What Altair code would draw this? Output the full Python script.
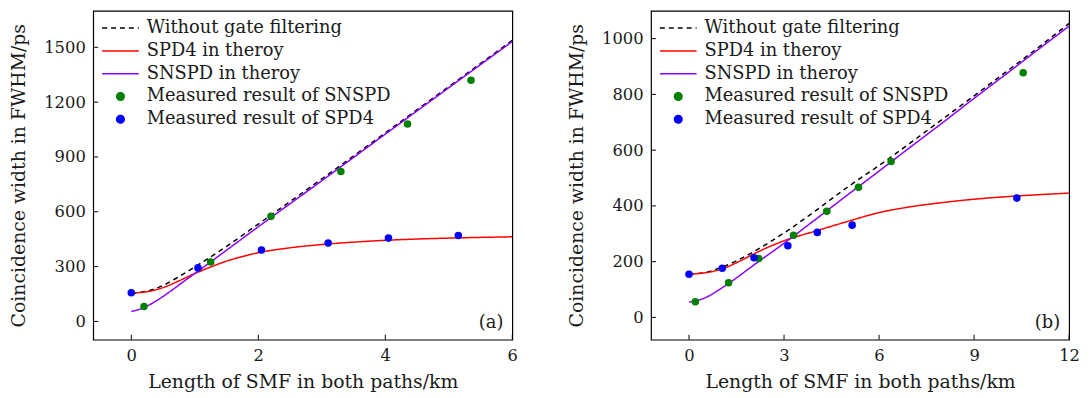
import altair as alt
import pandas as pd

SERIES = ["Without gate filtering", "SPD4 in theroy", "SNSPD in theroy",
          "Measured result of SNSPD", "Measured result of SPD4"]
COLORS = ["#000000", "#ff0000", "#8b00ff", "#008000", "#0000ff"]
DASHES = [[5, 4], [1, 0], [1, 0], [1, 0], [1, 0]]
SHAPES = ["stroke", "stroke", "stroke", "circle", "circle"]
SIZES = [1369, 1369, 1369, 58, 58]

# ---- panel (a) ----
a_dash_x = [0, 0.25, 0.5, 0.75, 1, 1.5, 2, 3, 4, 5, 6]
a_dash_y = [155, 166, 197, 245, 298, 411, 533, 780, 1032, 1285, 1538]
a_spd4_x = [0, 0.25, 0.5, 0.75, 1, 1.25, 1.5, 1.75, 2, 2.5, 3, 3.5, 4, 4.5, 5, 5.5, 6]
a_spd4_y = [155, 163, 185, 222, 262, 298, 330, 355, 376, 403, 421, 434, 444, 451, 456, 460, 463]
a_snspd_x = [0, 0.2, 0.4, 0.6, 0.8, 1, 1.2, 1.5, 2, 3, 4, 5, 6]
a_snspd_y = [54, 76, 114, 161, 212, 263, 313, 390, 518, 770, 1025, 1279, 1532]
a_meas_snspd_x = [0.2, 1.25, 2.2, 3.3, 4.35, 5.35]
a_meas_snspd_y = [82, 325, 575, 820, 1080, 1320]
a_meas_spd4_x = [0, 1.05, 2.05, 3.1, 4.05, 5.15]
a_meas_spd4_y = [157, 293, 391, 429, 456, 470]
a_xticks = [0, 2, 4, 6]
a_yticks = [0, 300, 600, 900, 1200, 1500]

# ---- panel (b) ----
b_dash_x = [0, 0.5, 1, 1.5, 2, 3, 4, 5, 6, 7, 8, 9, 10, 11, 12]
b_dash_y = [155, 161, 178, 203, 233, 303, 383, 467, 545, 627, 711, 795, 880, 966, 1055]
b_spd4_x = [0, 0.5, 1, 1.5, 2, 2.5, 3, 4, 5, 6, 7, 8, 9, 10, 11, 12]
b_spd4_y = [155, 160, 172, 196, 225, 252, 275, 310, 344, 376, 397, 412, 424, 433, 440, 446]
b_snspd_x = [0, 0.5, 1, 1.5, 2, 3, 4, 5, 6, 7, 8, 9, 10, 11, 12]
b_snspd_y = [55, 70, 103, 142, 184, 266, 352, 439, 525, 612, 698, 786, 872, 959, 1045]
b_meas_snspd_x = [0.2, 1.25, 2.2, 3.3, 4.35, 5.35, 6.38, 10.55]
b_meas_snspd_y = [56, 124, 211, 295, 381, 467, 559, 878]
b_meas_spd4_x = [0, 1.05, 2.05, 3.12, 4.05, 5.15, 10.35]
b_meas_spd4_y = [155, 176, 214, 257, 305, 331, 428]
b_xticks = [0, 3, 6, 9, 12]
b_yticks = [0, 200, 400, 600, 800, 1000]

FONT = "DejaVu Serif"
TXT = "#1a1a1a"


def panel(curves, points, xdom, ydom, xticks, yticks, tag, w, h):
    cdf = pd.concat([pd.DataFrame({"x": cx, "y": cy, "series": s}) for cx, cy, s in curves])
    pdf = pd.concat([pd.DataFrame({"x": px, "y": py, "series": s}) for px, py, s in points])
    xs = alt.Scale(domain=xdom, nice=False, zero=False)
    ys = alt.Scale(domain=ydom, nice=False, zero=False)
    X = alt.X("x:Q", scale=xs, axis=alt.Axis(values=xticks, format="d",
                                             title="Length of SMF in both paths/km"))
    Y = alt.Y("y:Q", scale=ys, axis=alt.Axis(values=yticks, format="d", titlePadding=15.5,
                                             title="Coincidence width in FWHM/ps"))
    color = alt.Color("series:N", scale=alt.Scale(domain=SERIES, range=COLORS), title=None)
    dash = alt.StrokeDash("series:N", scale=alt.Scale(domain=SERIES, range=DASHES), title=None)
    shape = alt.Shape("series:N", scale=alt.Scale(domain=SERIES, range=SHAPES), title=None)
    size = alt.Size("series:N", scale=alt.Scale(type="ordinal", domain=SERIES, range=SIZES), title=None)

    lines = alt.Chart(cdf).mark_line(strokeWidth=1.5, interpolate="monotone").encode(
        x=X, y=Y, color=color, strokeDash=dash)
    pts = alt.Chart(pdf).mark_point(filled=True, opacity=1, strokeWidth=0).encode(
        x=X, y=Y, color=color, shape=shape, size=size)
    xt = alt.Chart(pd.DataFrame({"x": xticks})).mark_rule(color="#000", strokeWidth=1).encode(
        x=alt.X("x:Q", scale=xs), y=alt.value(h), y2=alt.value(h - 5))
    yt = alt.Chart(pd.DataFrame({"y": yticks})).mark_rule(color="#000", strokeWidth=1).encode(
        y=alt.Y("y:Q", scale=ys), x=alt.value(0), x2=alt.value(5))
    lab = alt.Chart(pd.DataFrame({"t": [tag]})).mark_text(
        align="right", baseline="middle", font=FONT, fontSize=18, color=TXT).encode(
        x=alt.value(w - 9), y=alt.value(h - 17), text="t:N")
    return alt.layer(lines, pts, xt, yt, lab).properties(width=w, height=h)


pa = panel(
    [(a_dash_x, a_dash_y, SERIES[0]), (a_spd4_x, a_spd4_y, SERIES[1]), (a_snspd_x, a_snspd_y, SERIES[2])],
    [(a_meas_snspd_x, a_meas_snspd_y, SERIES[3]), (a_meas_spd4_x, a_meas_spd4_y, SERIES[4])],
    [-0.6, 6], [-100, 1700], a_xticks, a_yticks, "(a)", 423, 332)
pb = panel(
    [(b_dash_x, b_dash_y, SERIES[0]), (b_spd4_x, b_spd4_y, SERIES[1]), (b_snspd_x, b_snspd_y, SERIES[2])],
    [(b_meas_snspd_x, b_meas_snspd_y, SERIES[3]), (b_meas_spd4_x, b_meas_spd4_y, SERIES[4])],
    [-1.2, 12], [-80, 1100], b_xticks, b_yticks, "(b)", 422, 332)

chart = alt.hconcat(pa, pb, spacing=48).resolve_scale(
    color="independent", strokeDash="independent", shape="independent", size="independent",
    x="independent", y="independent"
).configure(padding=0, background="white").configure_view(
    stroke="#000", strokeWidth=1.2
).configure_axis(
    grid=False, ticks=False, domain=False, labelFlush=False, labelOverlap=False,
    labelFont=FONT, labelFontSize=16.5, labelColor=TXT, labelPadding=8,
    titleFont=FONT, titleFontSize=19, titleFontWeight="normal", titleColor=TXT, titlePadding=9
).configure_legend(
    orient="top-left", offset=8, padding=0, labelFont=FONT, labelFontSize=18, labelColor=TXT,
    labelOffset=7, symbolStrokeWidth=1.5, rowPadding=4, clipHeight=19, labelLimit=400
)

chart.save("out.html", embed_options={"renderer": "svg", "actions": False})
